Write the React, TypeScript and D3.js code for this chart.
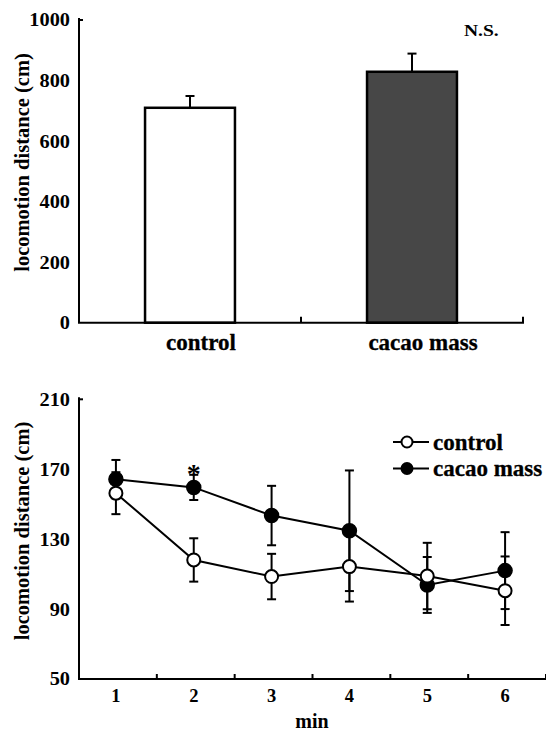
import React from "react";
import * as d3 from "d3";

// ---- Top chart data ----
const barCategories = ["control", "cacao mass"];
const barMeans = [710, 829];
const barErrors = [39, 60];
const barYTicks = [0, 200, 400, 600, 800, 1000];

// ---- Bottom chart data ----
const minutes = [1, 2, 3, 4, 5, 6];
const controlMeans = [156.3, 118.1, 108.6, 114.3, 108.9, 100.5];
const controlErr = [12, 12.4, 13, 20, 19, 19.6];
const cacaoMeans = [164.3, 159.6, 143.5, 134.8, 103.8, 112];
const cacaoErr = [11, 7.2, 17, 34.5, 16, 22];
const lineYTicks = [50, 90, 130, 170, 210];
const seriesNames = ["control", "cacao mass"];

const FONT = "'Liberation Serif', 'Times New Roman', Times, serif";

export default function App() {
  // Top chart scales
  const tx = d3.scaleBand<string>().domain(barCategories).range([79, 523]).paddingInner(0).paddingOuter(0);
  const barW = tx.bandwidth() * 0.405;
  const ty = d3.scaleLinear().domain([0, 1000]).range([322.7, 20]);

  // Bottom chart scales
  const bx = d3.scaleBand<number>().domain(minutes).range([79, 546]);
  const cx = (m: number) => (bx(m) as number) + bx.bandwidth() / 2 - 2;
  const by = d3.scaleLinear().domain([50, 210]).range([679, 399.3]);

  const line = d3
    .line<number>()
    .x((_, i) => cx(minutes[i]))
    .y((v) => by(v));

  const errBar = (x: number, y0: number, y1: number, key: string, cap = 4.5) => (
    <g key={key} stroke="#000" strokeWidth={2}>
      <line x1={x} x2={x} y1={y0} y2={y1} />
      <line x1={x - cap} x2={x + cap} y1={y0} y2={y0} />
      <line x1={x - cap} x2={x + cap} y1={y1} y2={y1} />
    </g>
  );

  const tickText = (x: number, y: number, t: number | string, key: string) => (
    <text key={key} transform={`translate(${x},${y}) scale(1.1,1)`} dy="0.35em" textAnchor="end" fontSize={18.5}>
      {t}
    </text>
  );

  return (
    <svg
      width={546}
      height={731}
      style={{ position: "absolute", left: 0, top: 0, background: "#fff" }}
      fontFamily={FONT}
      fontWeight="bold"
      stroke="none"
    >
      {/* ================= TOP CHART ================= */}
      <g>
        {barCategories.map((c, i) => {
          const x = (tx(c) as number) + tx.bandwidth() / 2;
          const top = ty(barMeans[i] + barErrors[i]);
          return (
            <g key={c}>
              <line x1={x} x2={x} y1={ty(barMeans[i])} y2={top} stroke="#000" strokeWidth={2} />
              <line x1={x - 4.5} x2={x + 4.5} y1={top} y2={top} stroke="#000" strokeWidth={2} />
              <rect
                x={x - barW / 2}
                y={ty(barMeans[i])}
                width={barW}
                height={ty(0) - ty(barMeans[i])}
                fill={i === 0 ? "#ffffff" : "#474747"}
                stroke="#000"
                strokeWidth={2.5}
              />
              <text x={x + 11} y={350} textAnchor="middle" fontSize={23} stroke="#000" strokeWidth={0.3}>
                {c}
              </text>
            </g>
          );
        })}
        {/* y axis */}
        <line x1={79} x2={79} y1={ty(1000) - 2} y2={ty(0)} stroke="#000" strokeWidth={2} />
        <line x1={79} x2={83} y1={ty(1000)} y2={ty(1000)} stroke="#000" strokeWidth={2} />
        {barYTicks.map((t) => tickText(70, ty(t), t, "ty" + t))}
        {/* x axis */}
        <line x1={78} x2={524} y1={ty(0)} y2={ty(0)} stroke="#000" strokeWidth={2} />
        {barCategories.map((c) => {
          const xe = (tx(c) as number) + tx.bandwidth();
          return <line key={c} x1={xe} x2={xe} y1={ty(0)} y2={ty(0) - 6} stroke="#000" strokeWidth={2} />;
        })}
        <text transform={`translate(22,${162.5}) rotate(-90)`} textAnchor="middle" dy="0.35em" fontSize={20.5}>
          locomotion distance (cm)
        </text>
        <text x={464} y={36} fontSize={17} transform="translate(464,36) scale(1.15,1) translate(-464,-36)">
          N.S.
        </text>
      </g>

      {/* ================= BOTTOM CHART ================= */}
      <g>
        {minutes.map((m, i) => errBar(cx(m), by(cacaoMeans[i] + cacaoErr[i]), by(cacaoMeans[i] - cacaoErr[i]), "ce" + m))}
        {minutes.map((m, i) => errBar(cx(m), by(controlMeans[i] + controlErr[i]), by(controlMeans[i] - controlErr[i]), "oe" + m))}
        <path d={line(cacaoMeans) || ""} fill="none" stroke="#000" strokeWidth={2} />
        <path d={line(controlMeans) || ""} fill="none" stroke="#000" strokeWidth={2} />
        {minutes.map((m, i) => (
          <circle key={"cm" + m} cx={cx(m)} cy={by(cacaoMeans[i])} r={7} fill="#000" stroke="#000" strokeWidth={1.5} />
        ))}
        {minutes.map((m, i) => (
          <circle key={"om" + m} cx={cx(m)} cy={by(controlMeans[i])} r={6.5} fill="#fff" stroke="#000" strokeWidth={2} />
        ))}
        <text x={cx(2)} y={by(cacaoMeans[1] + cacaoErr[1]) + 8} textAnchor="middle" fontSize={28}>
          *
        </text>

        {/* y axis */}
        <line x1={79} x2={79} y1={by(210) - 2} y2={by(50)} stroke="#000" strokeWidth={2} />
        <line x1={79} x2={83} y1={by(210)} y2={by(210)} stroke="#000" strokeWidth={2} />
        {lineYTicks.map((t) => tickText(70, by(t), t, "by" + t))}
        {/* x axis */}
        <line x1={78} x2={546} y1={by(50)} y2={by(50)} stroke="#000" strokeWidth={2} />
        {minutes.map((m) => {
          const xe = (bx(m) as number) + bx.bandwidth();
          return <line key={"t" + m} x1={xe} x2={xe} y1={by(50)} y2={by(50) - 5} stroke="#000" strokeWidth={2} />;
        })}
        {minutes.map((m) => (
          <text key={"l" + m} x={cx(m)} y={702} textAnchor="middle" fontSize={18.5}>
            {m}
          </text>
        ))}
        <text x={312} y={728} textAnchor="middle" fontSize={20}>
          min
        </text>
        <text transform={`translate(22,${531}) rotate(-90)`} textAnchor="middle" dy="0.35em" fontSize={20.5}>
          locomotion distance (cm)
        </text>

        {/* legend */}
        {seriesNames.map((s, i) => {
          const ly = 442 + i * 26.5;
          return (
            <g key={s}>
              <line x1={393} x2={429} y1={ly} y2={ly} stroke="#000" strokeWidth={2} />
              <circle cx={407} cy={ly} r={5.5} fill={i === 0 ? "#fff" : "#000"} stroke="#000" strokeWidth={2} />
              <text x={433} y={ly} dy="0.33em" fontSize={23} stroke="#000" strokeWidth={0.3}>
                {s}
              </text>
            </g>
          );
        })}
      </g>
    </svg>
  );
}
